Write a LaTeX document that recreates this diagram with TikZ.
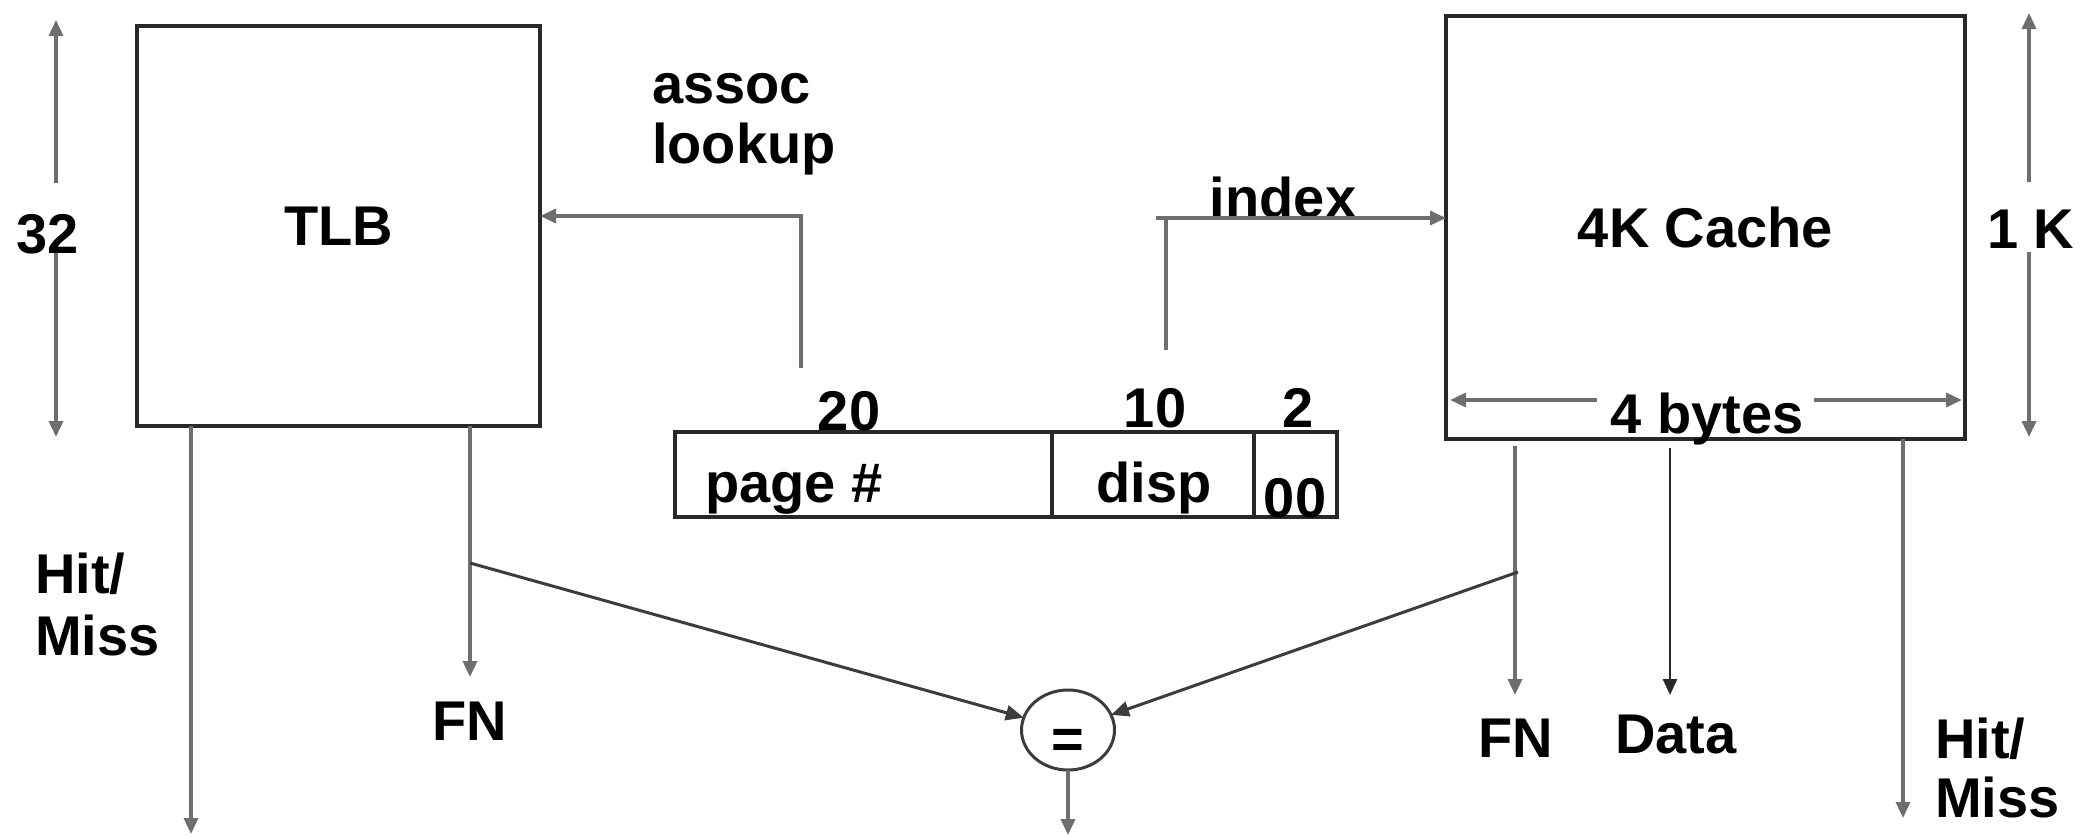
\documentclass[tikz,border=0pt]{standalone}
\usepackage{fontspec}
\setmainfont{Liberation Sans}
\usetikzlibrary{arrows.meta,shapes.geometric,calc}
\definecolor{boxc}{RGB}{40,40,40}
\definecolor{connc}{RGB}{110,110,110}
\definecolor{diagc}{RGB}{60,60,60}
\begin{document}
\begin{tikzpicture}[x=1pt,y=-1pt,
  every node/.style={inner sep=0pt, outer sep=0pt, font=\fontsize{56}{61}\selectfont\bfseries},
  box/.style={draw=boxc, line width=4pt},
  conn/.style={draw=connc, line width=3.5pt},
  arr/.style={conn, -{Triangle[length=16pt,width=14pt]}},
  arrd/.style={draw=diagc, line width=3pt, -{Triangle[length=18pt,width=15pt]}},
  lbl/.style={anchor=base},
  lblw/.style={anchor=base west}]
\useasboundingbox (0,0) rectangle (2082,836);
\fill[white] (0,0) rectangle (2082,836);

% main boxes
\node[box, minimum width=403pt, minimum height=400pt] (tlb) at (338.5,226) {TLB};
\node[box, minimum width=519pt, minimum height=423pt] (cache) at (1705.5,227.5) {4K Cache};

% address register
\node[box, minimum width=377pt, minimum height=85pt] (pagecell) at (863.5,474.5) {};
\node[box, minimum width=202pt, minimum height=85pt] (dispcell) at (1153,474.5) {};
\node[box, minimum width=83pt, minimum height=85pt] (lowcell) at (1295.5,474.5) {};
\node[lbl] (tpage) at (794,502) {page \#};
\node[lbl] (tdisp) at (1154,502) {disp};
\node[lbl] (tlow) at (1295,517) {00};
\node[lbl] (t20) at (849,430) {20};
\node[lbl] (t10) at (1155,427) {10};
\node[lbl] (t2) at (1298,427) {2};

% comparator
\node[ellipse, draw=diagc, line width=3pt, minimum width=93pt, minimum height=80pt] (eq) at (1068,730) {};
\node[lbl] (eqsign) at (1068,758) {=};

% labels
\node[lbl] (t32) at (48,253) {32};
\node[lblw] (tassoc) at (652,103) {assoc};
\node[lblw] (tlookup) at (652,163) {lookup};
\node[lbl] (tindex) at (1283,217) {index};
\node[lblw] (t1k) at (1987,248) {1 K};
\node[lbl] (t4b) at (1707,433) {4 bytes};
\node[lblw] (thitL) at (35,593) {Hit/};
\node[lblw] (tmissL) at (35,655) {Miss};
\node[lbl] (tfnL) at (470,740) {FN};
\node[lbl] (tfnR) at (1516,757) {FN};
\node[lbl] (tdata) at (1676,753) {Data};
\node[lblw] (thitR) at (1935,758) {Hit/};
\node[lblw] (tmissR) at (1935,817) {Miss};

% assoc lookup and index
\coordinate (lk) at (801,368);
\coordinate (tlbin) at (540,216);
\draw[arr] (lk) |- (tlbin);
\coordinate (ix) at (1166,350);
\coordinate (ixl) at (1156,218);
\coordinate (cin) at (1446,218);
\draw[conn] (ix) -- (ix |- cin);
\draw[arr] (ixl) -- (cin);

% TLB outputs
\coordinate (hmL) at (191,834);
\draw[arr] (tlb.south -| hmL) -- (hmL);
\coordinate (fnL) at (470,677);
\draw[arr] (tlb.south -| fnL) -- (fnL);
\coordinate (brL) at (470,563);
\draw[arrd] (brL) -- (eq);

% cache outputs
\coordinate (fnRs) at (1515,446);
\coordinate (fnR) at (1515,695);
\draw[arr] (fnRs) -- (fnR);
\coordinate (dataS) at (1670,448);
\coordinate (dataE) at (1670,695);
\draw[arr, draw=boxc, line width=2.5pt] (dataS) -- (dataE);
\coordinate (hmR) at (1903,818);
\draw[arr] (cache.south -| hmR) -- (hmR);
\coordinate (brR) at (1518,572);
\draw[arrd] (brR) -- (eq);
\coordinate (eqo) at (1068,835);
\draw[arr] (eq) -- (eqo);

% dimension arrows
\coordinate (d32t) at (56,20);
\coordinate (d32a) at (56,183);
\coordinate (d32b) at (56,253);
\coordinate (d32d) at (56,437);
\draw[arr] (d32a) -- (d32t);
\draw[arr] (d32b) -- (d32d);
\coordinate (d1kt) at (2029,13);
\coordinate (d1ka) at (2029,182);
\coordinate (d1kb) at (2029,252);
\coordinate (d1kd) at (2029,437);
\draw[arr] (d1ka) -- (d1kt);
\draw[arr] (d1kb) -- (d1kd);
\coordinate (d4l) at (1450,400);
\coordinate (d4a) at (1597,400);
\coordinate (d4b) at (1814,400);
\coordinate (d4r) at (1962,400);
\draw[arr] (d4a) -- (d4l);
\draw[arr] (d4b) -- (d4r);
\end{tikzpicture}
\end{document}
